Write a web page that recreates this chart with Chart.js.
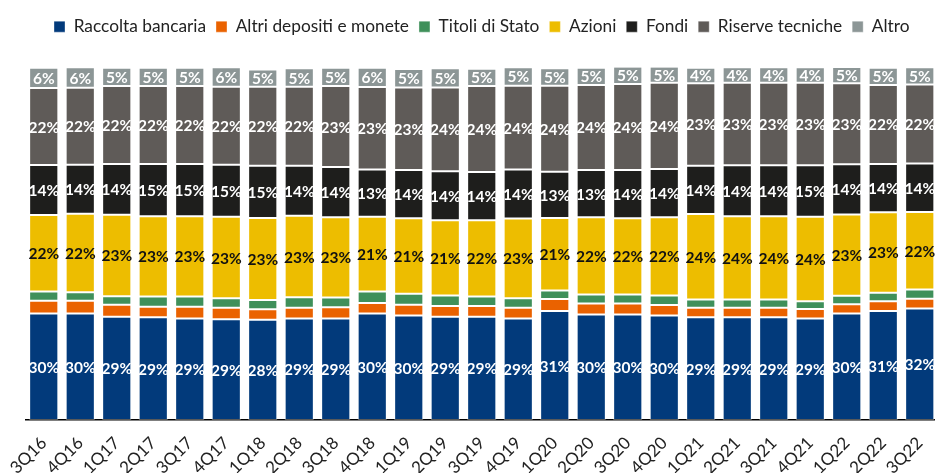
<!DOCTYPE html>
<html>
<head>
<meta charset="utf-8">
<script src="https://cdn.jsdelivr.net/npm/chart.js@4/dist/chart.umd.min.js"></script>
<style>
    html, body { margin: 0; padding: 0; background: #fff; overflow: hidden; }
    #wrap { width: 938px; height: 473px; position: relative; }
</style>
</head>
<body>
<div id="wrap"><canvas id="barChart"></canvas></div>
<script>
// trimestri
var trimestri = ["3Q16", "4Q16", "1Q17", "2Q17", "3Q17", "4Q17", "1Q18", "2Q18", "3Q18", "4Q18",
    "1Q19", "2Q19", "3Q19", "4Q19", "1Q20", "2Q20", "3Q20", "4Q20", "1Q21", "2Q21",
    "3Q21", "4Q21", "1Q22", "2Q22", "3Q22"];

// quote percentuali per componente
var raccoltaBancaria = [30.2, 30.2, 29.3, 29.1, 28.8, 28.6, 28.4, 28.8, 28.8, 30.2, 29.6, 29.3, 29.3,
    28.8, 30.9, 29.9, 29.9, 29.6, 29.1, 29.1, 29.1, 28.8, 30.2, 30.9, 31.6];
var altriDepositi = [3.6, 3.6, 3.4, 3.0, 3.3, 3.2, 3.0, 3.0, 3.2, 3.0, 3.1, 3.0, 3.0,
    3.0, 3.4, 3.1, 3.1, 3.0, 2.7, 2.7, 2.7, 2.7, 2.6, 2.8, 2.8];
var titoliStato = [2.6, 2.4, 2.4, 2.9, 2.9, 2.7, 2.6, 3.0, 2.7, 3.2, 3.1, 3.0, 2.7,
    2.7, 2.4, 2.6, 2.6, 2.7, 2.4, 2.4, 2.4, 2.2, 2.4, 2.4, 2.6];
var azioni = [21.7, 22.3, 23.1, 22.8, 22.8, 23.1, 23.3, 23.1, 22.8, 21.2, 21.4, 21.3, 21.6,
    22.6, 20.6, 21.9, 21.6, 22.2, 24.2, 23.6, 23.6, 23.9, 23.1, 22.8, 22.0];
var fondi = [14.2, 13.9, 14.4, 14.8, 14.8, 14.8, 14.8, 14.2, 14.2, 13.4, 13.7, 13.9, 13.7,
    13.9, 13.1, 13.4, 13.7, 13.7, 13.7, 14.4, 14.4, 14.6, 14.2, 13.7, 13.7];
var riserveTecniche = [21.8, 21.8, 22.1, 22.1, 22.1, 22.1, 22.4, 22.4, 23.0, 23.4, 23.4, 23.8, 24.4,
    23.8, 24.4, 24.1, 24.4, 24.4, 23.4, 23.4, 23.4, 23.4, 23.0, 22.4, 22.4];
var altro = [5.8, 5.8, 5.2, 5.2, 5.2, 5.5, 4.9, 5.2, 5.2, 5.5, 5.2, 5.4, 4.9,
    5.2, 4.9, 4.9, 4.9, 4.6, 4.4, 4.4, 4.4, 4.4, 4.6, 4.9, 4.9];

var fontFamily = "Lato, 'Noto Sans', sans-serif";

// etichette percentuali al centro di ogni segmento
var etichetteSegmenti = {
    id: "etichetteSegmenti",
    afterDatasetsDraw: function (chart) {
        let ctx = chart.ctx;
        chart.data.datasets.forEach(function (ds, i) {
            if (!ds.coloreEtichetta) return;
            let meta = chart.getDatasetMeta(i);
            meta.data.forEach(function (bar, j) {
                let p = bar.getProps(["x", "y", "base"], true);
                ctx.save();
                ctx.fillStyle = ds.coloreEtichetta;
                ctx.font = "bold 15.5px " + fontFamily;
                ctx.textAlign = "center";
                ctx.textBaseline = "middle";
                ctx.fillText(Math.round(ds.data[j]) + "%", p.x, (p.y + p.base) / 2 + 1);
                ctx.restore();
            });
        });
    }
};

// piu' spazio tra legenda e barre
var spazioLegenda = {
    id: "spazioLegenda",
    beforeInit: function (chart) {
        let fitOriginale = chart.legend.fit;
        chart.legend.fit = function () {
            fitOriginale.bind(chart.legend)();
            this.height += 22;
        };
    }
};

function serie(label, data, colore, coloreEtichetta) {
    return {
        label: label,
        data: data,
        backgroundColor: colore,
        borderColor: "rgba(255,255,255,0.35)",
        borderWidth: 1,
        borderSkipped: false,
        coloreEtichetta: coloreEtichetta,
        categoryPercentage: 0.8,
        barPercentage: 1.0
    };
}

let ctx = document.getElementById("barChart").getContext("2d");
let barChart = new Chart(ctx, {
    type: "bar",
    data: {
        labels: trimestri,
        datasets: [
            serie("Raccolta bancaria", raccoltaBancaria, "#023a7b", "#ffffff"),
            serie("Altri depositi e monete", altriDepositi, "#ea6200", null),
            serie("Titoli di Stato", titoliStato, "#3f905a", null),
            serie("Azioni", azioni, "#edbd00", "#111111"),
            serie("Fondi", fondi, "#1e1e1c", "#ffffff"),
            serie("Riserve tecniche", riserveTecniche, "#5f5b58", "#ffffff"),
            serie("Altro", altro, "#8c9696", "#ffffff")
        ]
    },
    options: {
        responsive: true,
        maintainAspectRatio: false,
        animation: false,
        layout: { padding: { top: 8, left: 25.5, right: 0, bottom: 0 } },
        plugins: {
            tooltip: { enabled: false },
            legend: {
                position: "top",
                labels: {
                    boxWidth: 11,
                    boxHeight: 11,
                    padding: 10,
                    color: "#222222",
                    font: { family: fontFamily, size: 17.3 }
                }
            }
        },
        scales: {
            x: {
                stacked: true,
                grid: { display: false },
                border: { display: true, color: "#000000", width: 1.5 },
                ticks: {
                    minRotation: 45,
                    maxRotation: 45,
                    color: "#222222",
                    padding: 5,
                    font: { family: fontFamily, size: 17 }
                },
                // altezza fissa dell'asse: le etichette escono dal bordo inferiore
                afterFit: function (scale) {
                    scale.height = 53;
                    scale.paddingLeft = 0;
                    scale.paddingRight = 0;
                }
            },
            y: {
                stacked: true,
                display: false,
                min: 0,
                max: 100
            }
        }
    },
    plugins: [etichetteSegmenti, spazioLegenda]
});
</script>
</body>
</html>
